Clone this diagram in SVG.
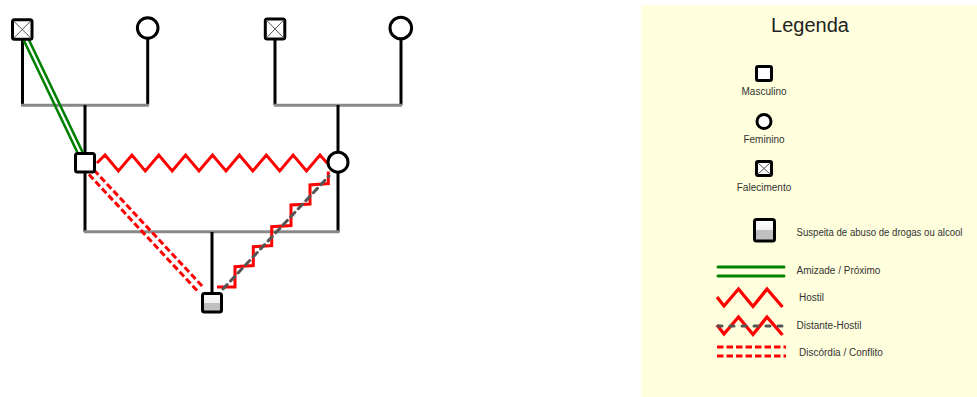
<svg xmlns="http://www.w3.org/2000/svg" width="977" height="397" viewBox="0 0 977 397">
<defs>
<linearGradient id="half" x1="0" y1="0" x2="0" y2="1">
<stop offset="0" stop-color="#ffffff"/><stop offset="0.5" stop-color="#f0f0f0"/><stop offset="0.5" stop-color="#c0c0c0"/><stop offset="1" stop-color="#c0c0c0"/>
</linearGradient>
</defs>
<style>
.sq{fill:#fff;stroke:#000;stroke-width:3;}
.ci{fill:#fff;stroke:#000;stroke-width:3;}
.x{stroke:#555;stroke-width:1;fill:none;}
.v{stroke:#000;stroke-width:3;fill:none;}
.h{stroke:#888;stroke-width:3;fill:none;}
.green{stroke:#008000;stroke-width:2.6;fill:none;stroke-linecap:round;}
.hostile{stroke:#ff0000;stroke-width:3;fill:none;stroke-linejoin:miter;}
.dist{stroke:#555;stroke-width:3;fill:none;stroke-dasharray:6,5;stroke-linecap:round;}
.disc{stroke:#ff0000;stroke-width:3;fill:none;stroke-dasharray:6.5,3;}
.lbl{font-family:"Liberation Sans",Arial,sans-serif;font-size:10px;fill:#333;}
.title{font-family:"Liberation Sans",Arial,sans-serif;font-size:20px;fill:#222;}
</style>
<rect x="641" y="5" width="336" height="392" fill="#FFFFDD"/>

<g id="connectors">
<polyline class="v" points="22.5,40 22.5,105"/>
<polyline class="v" points="147.7,39 147.7,105"/>
<line class="h" x1="21" y1="105.3" x2="149" y2="105.3"/>
<polyline class="v" points="85,105 85,153"/>
<polyline class="v" points="275,40 275,105"/>
<polyline class="v" points="401,39 401,105"/>
<line class="h" x1="274" y1="105.3" x2="402" y2="105.3"/>
<polyline class="v" points="338,105 338,151"/>
<polyline class="v" points="85,173 85,232"/>
<polyline class="v" points="338,173 338,232"/>
<line class="h" x1="84" y1="231.7" x2="339.5" y2="231.7"/>
<polyline class="v" points="212,232 212,293"/>
<line class="green" x1="24" y1="40.7" x2="77.2" y2="152"/>
<line class="green" x1="29.3" y1="40.7" x2="82.5" y2="152"/>
<polyline class="hostile" points="97,163 105,155 118.4,171 131.9,155 145.3,171 158.8,155 172.2,171 185.6,155 199,171 212.5,155 226,171 239.4,155 252.8,171 266.3,155 279.7,171 293.1,155 306.5,171 320,155 327.5,163.5"/>
<line class="disc" x1="94" y1="170" x2="203" y2="287"/>
<line class="disc" x1="89" y1="174.5" x2="197.5" y2="291"/>
<polyline class="hostile" points="217,287 235,287 235,266.7 253.3,265.5 253.3,246.7 271.7,245.5 271.7,226.7 291,225.5 291,205 310,204 310,185 328.3,183.5 328.3,171.5"/>
<line class="dist" x1="223" y1="289" x2="329" y2="176"/>
</g>

<g id="gf1"><rect class="sq" x="12.5" y="19.8" width="19.5" height="19.5" rx="2"/><path class="x" d="M13.5,20.8 L31,38.3 M31,20.8 L13.5,38.3"/></g>
<g id="gm1"><circle class="ci" cx="147.7" cy="28" r="10.3"/></g>
<g id="gf2"><rect class="sq" x="265.3" y="19" width="19.5" height="20" rx="2"/><path class="x" d="M266.3,20 L283.8,38 M283.8,20 L266.3,38"/></g>
<g id="gm2"><circle class="ci" cx="400.8" cy="28" r="10.8"/></g>
<g id="father"><rect class="sq" x="75.5" y="153.5" width="19" height="18.5" rx="2"/></g>
<g id="mother"><circle class="ci" cx="338" cy="162.2" r="10"/></g>
<g id="child"><rect class="sq" x="202.5" y="293.5" width="19" height="18.5" rx="2" style="fill:url(#half)"/></g>

<g id="legend">
<text class="title" x="810" y="32" text-anchor="middle">Legenda</text>
<g id="leg-masc"><rect class="sq" x="756.5" y="66.5" width="15" height="14" rx="1.5"/><text class="lbl" x="764" y="95" text-anchor="middle">Masculino</text></g>
<g id="leg-fem"><circle class="ci" cx="764" cy="121.5" r="7"/><text class="lbl" x="764" y="143" text-anchor="middle">Feminino</text></g>
<g id="leg-fal"><rect class="sq" x="756.5" y="161.5" width="15" height="14" rx="1.5"/><path class="x" d="M757.5,162.5 L770.5,174.5 M770.5,162.5 L757.5,174.5"/><text class="lbl" x="764" y="190.5" text-anchor="middle">Falecimento</text></g>
<g id="leg-abuse"><rect class="sq" x="754.5" y="219.5" width="20" height="21.5" rx="2" style="fill:url(#half)"/><text class="lbl" x="796.5" y="236" textLength="166" lengthAdjust="spacingAndGlyphs">Suspeita de abuso de drogas ou alcool</text></g>
<g id="leg-amizade"><line class="green" x1="718" y1="267" x2="784" y2="267" style="stroke-width:3"/><line class="green" x1="718" y1="276" x2="784" y2="276" style="stroke-width:3"/><text class="lbl" x="796.5" y="274">Amizade / Próximo</text></g>
<g id="leg-hostil"><polyline class="hostile" points="717,297 724,306 738.5,289 753,306.5 767,289 782.5,307" style="stroke-width:3.3"/><text class="lbl" x="799" y="301">Hostil</text></g>
<g id="leg-dist"><polyline class="hostile" points="717,325 724,334 738.5,317 753,334.5 767,317 782.5,335" style="stroke-width:3.3"/><line class="dist" x1="718" y1="326" x2="784" y2="326" style="stroke-dasharray:4,8"/><text class="lbl" x="796.5" y="329">Distante-Hostil</text></g>
<g id="leg-disc"><line class="disc" x1="717" y1="347" x2="786" y2="347"/><line class="disc" x1="717" y1="356" x2="786" y2="356"/><text class="lbl" x="799" y="356">Discórdia / Conflito</text></g>
</g>
</svg>
